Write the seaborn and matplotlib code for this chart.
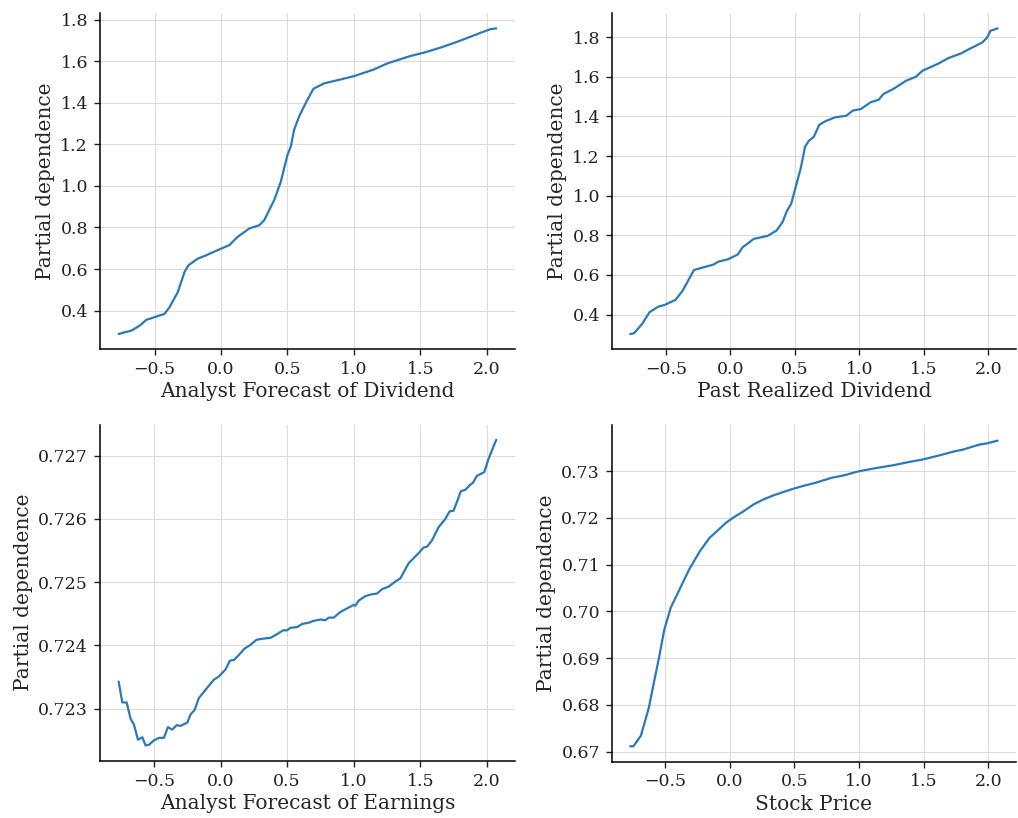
import matplotlib
matplotlib.use("Agg")
import matplotlib.pyplot as plt
import seaborn as sns
import pandas as pd

# --- partial dependence curves
div_fc_x = [-0.77, -0.725, -0.675, -0.6125, -0.5625, -0.5, -0.425, -0.3875, -0.325, -0.275,
            -0.245, -0.175, -0.1125, 0.0, 0.0625, 0.125, 0.2125, 0.2875, 0.325, 0.4,
            0.45, 0.5, 0.525, 0.55, 0.5875, 0.6375, 0.695, 0.775, 0.9, 1.0,
            1.15, 1.25, 1.425, 1.525, 1.65, 1.775, 1.95, 2.025, 2.07]
div_fc_y = [0.287, 0.295, 0.303, 0.327, 0.355, 0.368, 0.384, 0.416, 0.489, 0.585,
            0.618, 0.65, 0.666, 0.698, 0.715, 0.755, 0.795, 0.811, 0.835, 0.932,
            1.021, 1.15, 1.19, 1.271, 1.335, 1.4, 1.468, 1.494, 1.513, 1.529,
            1.561, 1.59, 1.626, 1.642, 1.666, 1.694, 1.737, 1.755, 1.759]

div_past_x = [-0.776, -0.746, -0.683, -0.626, -0.558, -0.508, -0.425, -0.369, -0.281, -0.206,
              -0.131, -0.093, -0.018, 0.058, 0.095, 0.183, 0.289, 0.359, 0.405, 0.44,
              0.472, 0.51, 0.548, 0.58, 0.61, 0.648, 0.691, 0.736, 0.812, 0.899,
              0.95, 1.013, 1.088, 1.151, 1.188, 1.264, 1.364, 1.44, 1.49, 1.616,
              1.691, 1.791, 1.854, 1.955, 1.992, 2.018, 2.073]
div_past_y = [0.302, 0.306, 0.353, 0.412, 0.44, 0.449, 0.474, 0.521, 0.625, 0.639,
              0.652, 0.667, 0.679, 0.703, 0.739, 0.782, 0.797, 0.824, 0.866, 0.924,
              0.958, 1.05, 1.143, 1.247, 1.277, 1.297, 1.358, 1.375, 1.395, 1.403,
              1.429, 1.437, 1.471, 1.484, 1.513, 1.538, 1.58, 1.6, 1.63, 1.667,
              1.694, 1.718, 1.74, 1.773, 1.798, 1.832, 1.844]

earn_x = [-0.765, -0.7375, -0.705, -0.675, -0.65, -0.62, -0.5875, -0.5625, -0.5375, -0.5,
          -0.4625, -0.425, -0.395, -0.3625, -0.33, -0.3, -0.25, -0.225, -0.195, -0.1625,
          -0.1125, -0.05, -0.0125, 0.0375, 0.07, 0.1, 0.1375, 0.18, 0.225, 0.27,
          0.325, 0.375, 0.425, 0.47, 0.5, 0.525, 0.575, 0.6125, 0.6625, 0.7,
          0.75, 0.7875, 0.8125, 0.85, 0.9, 0.9625, 1.0, 1.0125, 1.0375, 1.0875,
          1.1375, 1.175, 1.2125, 1.2625, 1.3125, 1.35, 1.4125, 1.4875, 1.525, 1.55,
          1.5875, 1.6375, 1.6875, 1.72, 1.75, 1.805, 1.8375, 1.875, 1.895, 1.925,
          1.98, 2.0125, 2.07]
earn_y = [0.72343, 0.72310, 0.72310, 0.72284, 0.72275, 0.72251, 0.72255, 0.72242, 0.72243, 0.72250,
          0.72254, 0.72254, 0.72271, 0.72267, 0.72274, 0.72273, 0.72278, 0.72291, 0.72298, 0.72317,
          0.72330, 0.72346, 0.72351, 0.72362, 0.72376, 0.72377, 0.72385, 0.72395, 0.72401, 0.72409,
          0.72411, 0.72412, 0.72418, 0.72424, 0.72424, 0.72428, 0.72429, 0.72434, 0.72436, 0.72439,
          0.72441, 0.72440, 0.72444, 0.72444, 0.72453, 0.72460, 0.72464, 0.72463, 0.72471, 0.72478,
          0.72481, 0.72482, 0.72489, 0.72493, 0.72501, 0.72506, 0.72530, 0.72546, 0.72555, 0.72556,
          0.72566, 0.72587, 0.72600, 0.72612, 0.72613, 0.72644, 0.72646, 0.72654, 0.72657, 0.72668,
          0.72674, 0.72695, 0.72725]

price_x = [-0.771, -0.746, -0.688, -0.626, -0.59, -0.55, -0.508, -0.457, -0.382, -0.314,
           -0.231, -0.156, -0.093, -0.03, 0.033, 0.108, 0.183, 0.259, 0.334, 0.41,
           0.497, 0.56, 0.661, 0.786, 0.887, 1.0, 1.138, 1.264, 1.389, 1.49,
           1.616, 1.741, 1.804, 1.93, 1.992, 2.073]
price_y = [0.67114, 0.67114, 0.67342, 0.67947, 0.68445, 0.68979, 0.69598, 0.70082, 0.70509, 0.70900,
           0.71292, 0.71577, 0.71733, 0.71897, 0.72018, 0.72146, 0.72288, 0.72395, 0.72480, 0.72552,
           0.72630, 0.72680, 0.72751, 0.72858, 0.72915, 0.73000, 0.73071, 0.73128, 0.73199, 0.73249,
           0.73335, 0.73427, 0.73463, 0.73569, 0.73598, 0.73655]

features = ["Analyst Forecast of Dividend", "Past Realized Dividend",
            "Analyst Forecast of Earnings", "Stock Price"]
curves = [(div_fc_x, div_fc_y), (div_past_x, div_past_y),
          (earn_x, earn_y), (price_x, price_y)]

sns.set_theme(style="ticks")
plt.rcParams["font.family"] = ["DejaVu Serif"]

fig = plt.figure(figsize=(10.18, 8.18), dpi=100)
posicoes = [
    [0.098, 0.573, 0.408, 0.411],
    [0.601, 0.573, 0.397, 0.411],
    [0.098, 0.070, 0.408, 0.411],
    [0.601, 0.069, 0.397, 0.411],
]

for pos, nome, (xs, ys) in zip(posicoes, features, curves):
    ax = fig.add_axes(pos)
    df = pd.DataFrame({"x": xs, "y": ys})
    sns.lineplot(data=df, x="x", y="y", ax=ax, color="#2a7ab9", linewidth=1.6)
    ax.grid(True, color="#dcdcdc", linewidth=0.8)
    ax.set_axisbelow(True)
    ax.set_xticks([-0.5, 0.0, 0.5, 1.0, 1.5, 2.0])
    ax.tick_params(labelsize=12.5, colors="#222222", length=4, width=1, pad=4.5)
    ax.set_xlabel(nome, fontsize=14.5, labelpad=3)
    ax.set_ylabel("Partial dependence", fontsize=14.5, labelpad=4)
    for s in ["left", "bottom"]:
        ax.spines[s].set_color("black")
        ax.spines[s].set_linewidth(1.1)
    sns.despine(ax=ax)

fig.axes[2].yaxis.set_major_formatter(matplotlib.ticker.FormatStrFormatter("%.3f"))
fig.axes[3].yaxis.set_major_formatter(matplotlib.ticker.FormatStrFormatter("%.2f"))

fig.savefig("out.png", dpi=100)
